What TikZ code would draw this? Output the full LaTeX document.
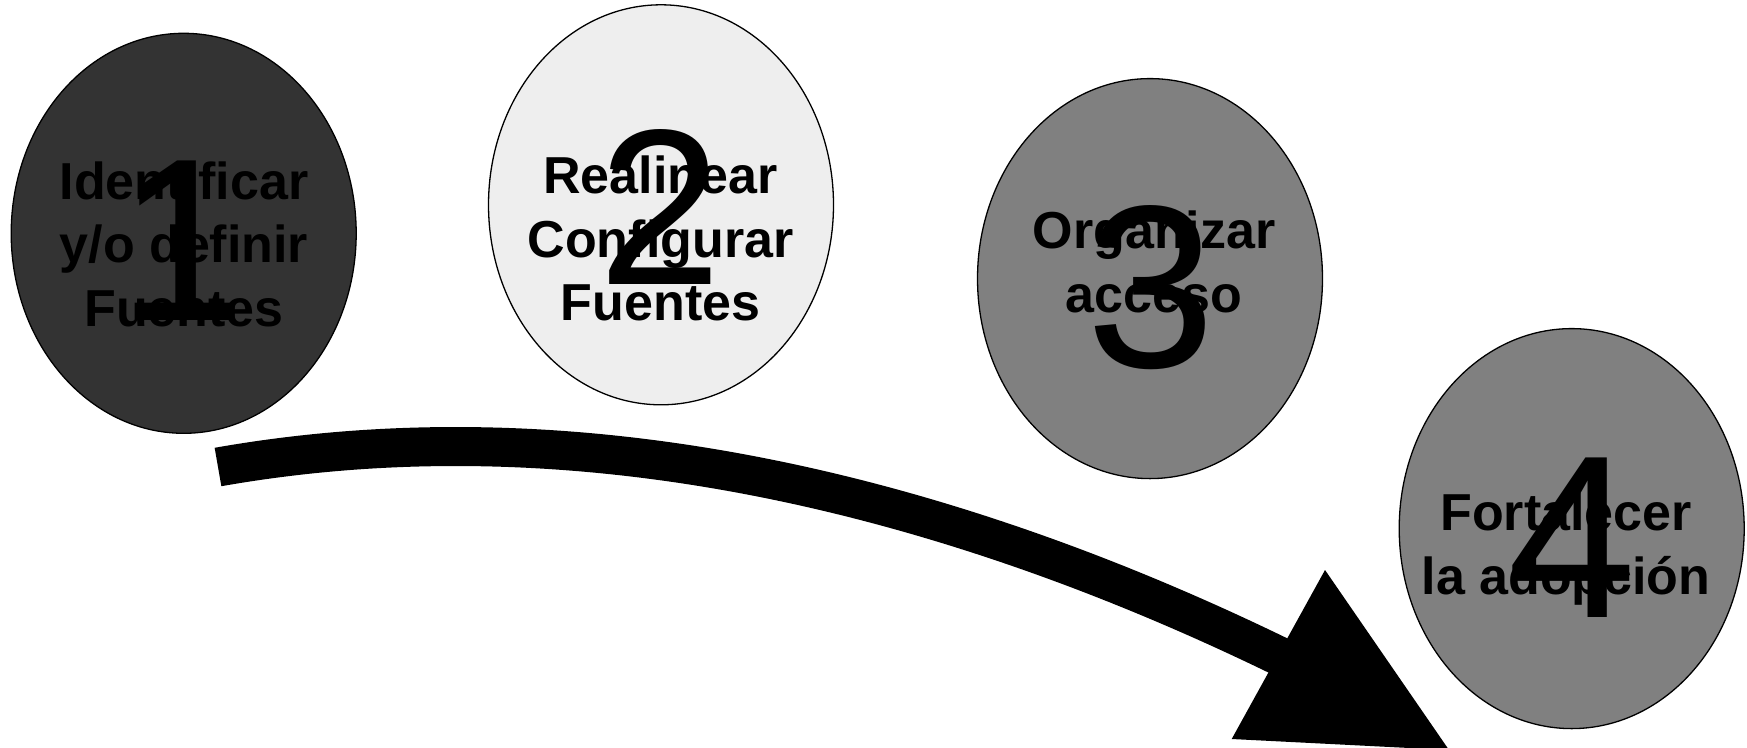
\documentclass[tikz,border=0pt]{standalone}
\usepackage{fontspec}
\setmainfont{Liberation Sans}
\usetikzlibrary{shapes.geometric}
\definecolor{dark}{HTML}{333333}
\definecolor{light}{HTML}{EEEEEE}
\definecolor{mid}{HTML}{808080}
\tikzset{
  stage/.style={ellipse, draw=black, line width=1.3pt, minimum width=345pt, minimum height=400pt, inner sep=0pt},
  bignum/.style={font=\fontsize{232}{232}\selectfont, inner sep=0pt, anchor=base, text=black},
  lbl/.style={font=\fontsize{52}{63.5}\selectfont\bfseries, align=center, inner sep=0pt, anchor=north, text=black},
  band/.style={line width=39pt, line cap=butt, draw=black},
}
\newcommand{\tallstrut}{\rule{0pt}{40pt}}
\begin{document}
\begin{tikzpicture}[x=1pt,y=-1pt]
\useasboundingbox (0,0) rectangle (1747,747);
\clip (0,0) rectangle (1747,747);
% stages
\node[stage, fill=dark]  (e1) at (183.7,233.3) {};
\node[stage, fill=light] (e2) at (661,204.8) {};
\node[stage, fill=mid]   (e3) at (1150,278.6) {};
\node[stage, fill=mid]   (e4) at (1571.7,528.6) {};
% big numbers
\node[bignum] (n1) at (182,320) {1};
\node[bignum, font=\fontsize{222}{222}\selectfont] (n2) at (660,284) {2};
\node[bignum] (n3) at (1151,367) {3};
\node[bignum] (n4) at (1572,617) {4};
% labels
\node[lbl] (l1) at (184,159) {\tallstrut Identificar\\y/o definir\\Fuentes};
\node[lbl] (l2) at (660.5,153.3) {\tallstrut Realinear\\Configurar\\Fuentes};
\node[lbl] (l3) at (1154,208.5) {\tallstrut Organizar\\acceso};
\node[lbl] (l4) at (1566,490.7) {\tallstrut Fortalecer\\la adopción};
% arrow
\coordinate (as) at (218,467);
\coordinate (ae) at (1279,656);
\coordinate (tA) at (1325,570);
\coordinate (tB) at (1231.7,739);
\coordinate (tC) at (1449,750);
\draw[band] (as) .. controls (592.2,401) and (963.3,502.6) .. (ae);
\fill[black] (tA) -- (tB) -- (tC) -- cycle;
\end{tikzpicture}
\end{document}
